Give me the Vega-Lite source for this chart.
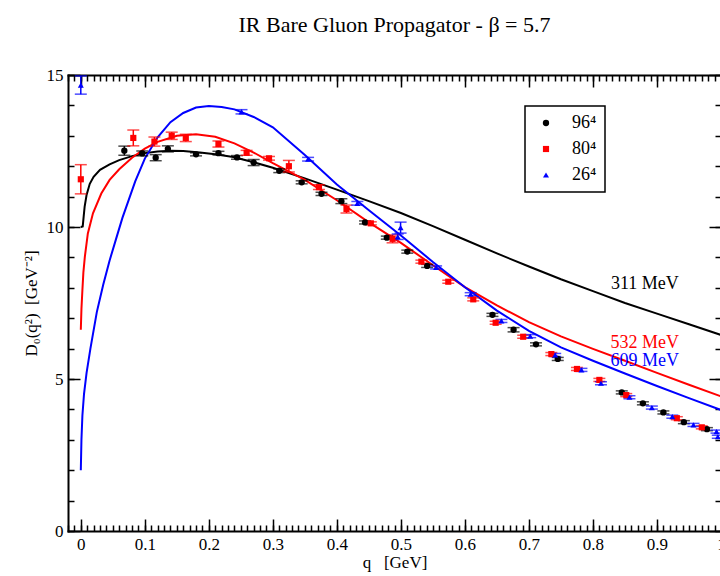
{
  "$schema": "https://vega.github.io/schema/vega-lite/v6.json",
  "width": 653,
  "height": 456,
  "autosize": "none",
  "padding": {"left": 68, "top": 75, "right": 0, "bottom": 45},
  "background": "white",
  "title": {"text": "IR Bare Gluon Propagator - β = 5.7", "font": "Liberation Serif", "fontSize": 22, "fontWeight": "normal", "color": "black", "anchor": "middle", "frame": "group", "baseline": "alphabetic", "offset": 12},
  "config": {
    "view": {"stroke": null},
    "axis": {"grid": false, "domainColor": "black", "tickColor": "black", "labelColor": "black", "titleColor": "black", "labelFont": "Liberation Serif", "titleFont": "Liberation Serif", "labelFontSize": 17, "titleFontSize": 17, "titleFontWeight": "normal", "domainWidth": 2, "tickWidth": 1.5, "domainCap": "square"},
    "legend": {"orient": "none", "legendX": 457, "legendY": 31, "padding": 8, "strokeColor": "black", "fillColor": "white", "strokeWidth": 1.5, "cornerRadius": 0, "labelFont": "Liberation Serif", "labelFontSize": 18, "labelColor": "black", "symbolSize": 40, "rowPadding": 8, "labelOffset": 17, "symbolOffset": 4, "symbolStrokeWidth": 0}
  },
  "datasets": {
    "curves": [
      {"s": "b", "q": 0, "D": 10.0}, {"s": "b", "q": 0.003, "D": 10.02}, {"s": "b", "q": 0.0045, "D": 10.35}, {"s": "b", "q": 0.006, "D": 10.67}, {"s": "b", "q": 0.009, "D": 11.05}, {"s": "b", "q": 0.014, "D": 11.42}, {"s": "b", "q": 0.02, "D": 11.65}, {"s": "b", "q": 0.03, "D": 11.88}, {"s": "b", "q": 0.045, "D": 12.06}, {"s": "b", "q": 0.06, "D": 12.2}, {"s": "b", "q": 0.08, "D": 12.33}, {"s": "b", "q": 0.1, "D": 12.43}, {"s": "b", "q": 0.12, "D": 12.48}, {"s": "b", "q": 0.14, "D": 12.51}, {"s": "b", "q": 0.16, "D": 12.5}, {"s": "b", "q": 0.186, "D": 12.45}, {"s": "b", "q": 0.21, "D": 12.39}, {"s": "b", "q": 0.238, "D": 12.3}, {"s": "b", "q": 0.27, "D": 12.13}, {"s": "b", "q": 0.3, "D": 11.95}, {"s": "b", "q": 0.35, "D": 11.6}, {"s": "b", "q": 0.4, "D": 11.23}, {"s": "b", "q": 0.45, "D": 10.85}, {"s": "b", "q": 0.5, "D": 10.46}, {"s": "b", "q": 0.55, "D": 10.03}, {"s": "b", "q": 0.6, "D": 9.58}, {"s": "b", "q": 0.65, "D": 9.13}, {"s": "b", "q": 0.7, "D": 8.7}, {"s": "b", "q": 0.75, "D": 8.28}, {"s": "b", "q": 0.8, "D": 7.89}, {"s": "b", "q": 0.85, "D": 7.5}, {"s": "b", "q": 0.9, "D": 7.15}, {"s": "b", "q": 0.95, "D": 6.8}, {"s": "b", "q": 1.0, "D": 6.45},
      {"s": "r", "q": 0, "D": 6.62}, {"s": "r", "q": 0.001, "D": 7.3}, {"s": "r", "q": 0.0025, "D": 7.93}, {"s": "r", "q": 0.004, "D": 8.5}, {"s": "r", "q": 0.0063, "D": 9.02}, {"s": "r", "q": 0.011, "D": 9.79}, {"s": "r", "q": 0.019, "D": 10.45}, {"s": "r", "q": 0.032, "D": 11.1}, {"s": "r", "q": 0.045, "D": 11.55}, {"s": "r", "q": 0.06, "D": 11.9}, {"s": "r", "q": 0.08, "D": 12.28}, {"s": "r", "q": 0.1, "D": 12.58}, {"s": "r", "q": 0.12, "D": 12.8}, {"s": "r", "q": 0.15, "D": 13.0}, {"s": "r", "q": 0.18, "D": 13.05}, {"s": "r", "q": 0.21, "D": 12.97}, {"s": "r", "q": 0.24, "D": 12.75}, {"s": "r", "q": 0.27, "D": 12.45}, {"s": "r", "q": 0.3, "D": 12.1}, {"s": "r", "q": 0.35, "D": 11.55}, {"s": "r", "q": 0.4, "D": 10.88}, {"s": "r", "q": 0.45, "D": 10.15}, {"s": "r", "q": 0.5, "D": 9.48}, {"s": "r", "q": 0.55, "D": 8.74}, {"s": "r", "q": 0.6, "D": 8.02}, {"s": "r", "q": 0.65, "D": 7.42}, {"s": "r", "q": 0.7, "D": 6.87}, {"s": "r", "q": 0.75, "D": 6.4}, {"s": "r", "q": 0.8, "D": 5.99}, {"s": "r", "q": 0.85, "D": 5.6}, {"s": "r", "q": 0.9, "D": 5.2}, {"s": "r", "q": 0.95, "D": 4.81}, {"s": "r", "q": 1.0, "D": 4.43},
      {"s": "u", "q": 0, "D": 2.0}, {"s": "u", "q": 0.001, "D": 3.0}, {"s": "u", "q": 0.0025, "D": 3.8}, {"s": "u", "q": 0.005, "D": 4.5}, {"s": "u", "q": 0.009, "D": 5.2}, {"s": "u", "q": 0.015, "D": 6.0}, {"s": "u", "q": 0.025, "D": 7.2}, {"s": "u", "q": 0.035, "D": 8.1}, {"s": "u", "q": 0.045, "D": 8.9}, {"s": "u", "q": 0.055, "D": 9.6}, {"s": "u", "q": 0.065, "D": 10.3}, {"s": "u", "q": 0.075, "D": 10.9}, {"s": "u", "q": 0.085, "D": 11.5}, {"s": "u", "q": 0.1, "D": 12.25}, {"s": "u", "q": 0.12, "D": 12.95}, {"s": "u", "q": 0.14, "D": 13.45}, {"s": "u", "q": 0.16, "D": 13.75}, {"s": "u", "q": 0.18, "D": 13.93}, {"s": "u", "q": 0.2, "D": 13.98}, {"s": "u", "q": 0.22, "D": 13.95}, {"s": "u", "q": 0.24, "D": 13.87}, {"s": "u", "q": 0.27, "D": 13.62}, {"s": "u", "q": 0.3, "D": 13.28}, {"s": "u", "q": 0.35, "D": 12.37}, {"s": "u", "q": 0.4, "D": 11.4}, {"s": "u", "q": 0.45, "D": 10.55}, {"s": "u", "q": 0.5, "D": 9.72}, {"s": "u", "q": 0.55, "D": 8.85}, {"s": "u", "q": 0.6, "D": 8.02}, {"s": "u", "q": 0.65, "D": 7.25}, {"s": "u", "q": 0.7, "D": 6.58}, {"s": "u", "q": 0.75, "D": 6.04}, {"s": "u", "q": 0.8, "D": 5.6}, {"s": "u", "q": 0.85, "D": 5.18}, {"s": "u", "q": 0.9, "D": 4.77}, {"s": "u", "q": 0.95, "D": 4.37}, {"s": "u", "q": 1.0, "D": 3.98}
    ],
    "points": [
      {"s": "96⁴", "q": 0.068, "D": 12.51, "lo": 12.36, "hi": 12.66},
      {"s": "96⁴", "q": 0.096, "D": 12.42, "lo": 12.34, "hi": 12.5},
      {"s": "96⁴", "q": 0.117, "D": 12.28, "lo": 12.18, "hi": 12.38},
      {"s": "96⁴", "q": 0.136, "D": 12.57, "lo": 12.47, "hi": 12.67},
      {"s": "96⁴", "q": 0.18, "D": 12.39, "lo": 12.34, "hi": 12.44},
      {"s": "96⁴", "q": 0.215, "D": 12.43, "lo": 12.37, "hi": 12.49},
      {"s": "96⁴", "q": 0.244, "D": 12.29, "lo": 12.23, "hi": 12.35},
      {"s": "96⁴", "q": 0.27, "D": 12.12, "lo": 12.02, "hi": 12.22},
      {"s": "96⁴", "q": 0.31, "D": 11.85, "lo": 11.79, "hi": 11.91},
      {"s": "96⁴", "q": 0.345, "D": 11.47, "lo": 11.42, "hi": 11.52},
      {"s": "96⁴", "q": 0.376, "D": 11.09, "lo": 11.04, "hi": 11.14},
      {"s": "96⁴", "q": 0.407, "D": 10.85, "lo": 10.77, "hi": 10.93},
      {"s": "96⁴", "q": 0.444, "D": 10.15, "lo": 10.1, "hi": 10.2},
      {"s": "96⁴", "q": 0.478, "D": 9.65, "lo": 9.6, "hi": 9.7},
      {"s": "96⁴", "q": 0.51, "D": 9.19, "lo": 9.14, "hi": 9.24},
      {"s": "96⁴", "q": 0.541, "D": 8.72, "lo": 8.67, "hi": 8.77},
      {"s": "96⁴", "q": 0.643, "D": 7.11, "lo": 7.06, "hi": 7.16},
      {"s": "96⁴", "q": 0.676, "D": 6.62, "lo": 6.55, "hi": 6.69},
      {"s": "96⁴", "q": 0.711, "D": 6.14, "lo": 6.09, "hi": 6.19},
      {"s": "96⁴", "q": 0.745, "D": 5.66, "lo": 5.61, "hi": 5.71},
      {"s": "96⁴", "q": 0.845, "D": 4.56, "lo": 4.51, "hi": 4.61},
      {"s": "96⁴", "q": 0.878, "D": 4.2, "lo": 4.15, "hi": 4.25},
      {"s": "96⁴", "q": 0.91, "D": 3.9, "lo": 3.85, "hi": 3.95},
      {"s": "96⁴", "q": 0.942, "D": 3.58, "lo": 3.53, "hi": 3.63},
      {"s": "96⁴", "q": 0.978, "D": 3.35, "lo": 3.3, "hi": 3.4},
      {"s": "80⁴", "q": 0.0, "D": 11.57, "lo": 11.09, "hi": 12.05},
      {"s": "80⁴", "q": 0.082, "D": 12.93, "lo": 12.67, "hi": 13.19},
      {"s": "80⁴", "q": 0.115, "D": 12.81, "lo": 12.66, "hi": 12.96},
      {"s": "80⁴", "q": 0.142, "D": 13.0, "lo": 12.88, "hi": 13.12},
      {"s": "80⁴", "q": 0.164, "D": 12.93, "lo": 12.81, "hi": 13.05},
      {"s": "80⁴", "q": 0.215, "D": 12.73, "lo": 12.63, "hi": 12.83},
      {"s": "80⁴", "q": 0.259, "D": 12.44, "lo": 12.36, "hi": 12.52},
      {"s": "80⁴", "q": 0.294, "D": 12.26, "lo": 12.2, "hi": 12.32},
      {"s": "80⁴", "q": 0.325, "D": 12.0, "lo": 11.81, "hi": 12.19},
      {"s": "80⁴", "q": 0.372, "D": 11.31, "lo": 11.23, "hi": 11.39},
      {"s": "80⁴", "q": 0.415, "D": 10.59, "lo": 10.46, "hi": 10.72},
      {"s": "80⁴", "q": 0.453, "D": 10.12, "lo": 10.07, "hi": 10.17},
      {"s": "80⁴", "q": 0.487, "D": 9.61, "lo": 9.48, "hi": 9.74},
      {"s": "80⁴", "q": 0.532, "D": 8.86, "lo": 8.81, "hi": 8.91},
      {"s": "80⁴", "q": 0.574, "D": 8.2, "lo": 8.15, "hi": 8.25},
      {"s": "80⁴", "q": 0.613, "D": 7.62, "lo": 7.57, "hi": 7.67},
      {"s": "80⁴", "q": 0.648, "D": 6.85, "lo": 6.8, "hi": 6.9},
      {"s": "80⁴", "q": 0.691, "D": 6.39, "lo": 6.34, "hi": 6.44},
      {"s": "80⁴", "q": 0.735, "D": 5.82, "lo": 5.77, "hi": 5.87},
      {"s": "80⁴", "q": 0.775, "D": 5.33, "lo": 5.28, "hi": 5.38},
      {"s": "80⁴", "q": 0.81, "D": 4.97, "lo": 4.92, "hi": 5.02},
      {"s": "80⁴", "q": 0.852, "D": 4.47, "lo": 4.42, "hi": 4.52},
      {"s": "80⁴", "q": 0.931, "D": 3.71, "lo": 3.66, "hi": 3.76},
      {"s": "80⁴", "q": 0.97, "D": 3.41, "lo": 3.36, "hi": 3.46},
      {"s": "26⁴", "q": 0.0, "D": 14.67, "lo": 14.37, "hi": 14.97},
      {"s": "26⁴", "q": 0.251, "D": 13.79, "lo": 13.72, "hi": 13.86},
      {"s": "26⁴", "q": 0.355, "D": 12.23, "lo": 12.17, "hi": 12.29},
      {"s": "26⁴", "q": 0.432, "D": 10.78, "lo": 10.72, "hi": 10.84},
      {"s": "26⁴", "q": 0.4995, "D": 9.98, "lo": 9.8, "hi": 10.16},
      {"s": "26⁴", "q": 0.495, "D": 9.68, "lo": 9.59, "hi": 9.77},
      {"s": "26⁴", "q": 0.555, "D": 8.67, "lo": 8.62, "hi": 8.72},
      {"s": "26⁴", "q": 0.609, "D": 7.79, "lo": 7.74, "hi": 7.84},
      {"s": "26⁴", "q": 0.657, "D": 6.91, "lo": 6.86, "hi": 6.96},
      {"s": "26⁴", "q": 0.702, "D": 6.41, "lo": 6.36, "hi": 6.46},
      {"s": "26⁴", "q": 0.741, "D": 5.79, "lo": 5.74, "hi": 5.84},
      {"s": "26⁴", "q": 0.782, "D": 5.3, "lo": 5.25, "hi": 5.35},
      {"s": "26⁴", "q": 0.8125, "D": 4.86, "lo": 4.81, "hi": 4.91},
      {"s": "26⁴", "q": 0.857, "D": 4.4, "lo": 4.35, "hi": 4.45},
      {"s": "26⁴", "q": 0.892, "D": 4.06, "lo": 4.01, "hi": 4.11},
      {"s": "26⁴", "q": 0.924, "D": 3.76, "lo": 3.71, "hi": 3.81},
      {"s": "26⁴", "q": 0.957, "D": 3.49, "lo": 3.44, "hi": 3.54},
      {"s": "26⁴", "q": 0.993, "D": 3.27, "lo": 3.22, "hi": 3.32},
      {"s": "26⁴", "q": 0.995, "D": 3.1, "lo": 3.05, "hi": 3.15}
    ],
    "labels": [
      {"t": "311 MeV", "q": 0.828, "D": 7.95, "c": "black"},
      {"t": "532 MeV", "q": 0.8275, "D": 6.01, "c": "red"},
      {"t": "609 MeV", "q": 0.8275, "D": 5.43, "c": "blue"}
    ]
  },
  "layer": [
    {
      "data": {"name": "curves"},
      "transform": [{"filter": "datum.s == 'b'"}],
      "mark": {"type": "line", "color": "black", "strokeWidth": 2},
      "encoding": {
        "x": {"field": "q", "type": "quantitative", "scale": {"domain": [-0.02, 1.0], "nice": false, "zero": false},
              "axis": {"orient": "bottom", "values": [0, 0.1, 0.2, 0.3, 0.4, 0.5, 0.6, 0.7, 0.8, 0.9, 1], "format": "~g", "ticks": false, "labelPadding": 5, "labelFlush": false, "labelOverlap": false, "domain": true, "title": "q\u00a0\u00a0\u00a0[GeV]", "titleY": 36, "titleBaseline": "alphabetic"}},
        "y": {"field": "D", "type": "quantitative", "scale": {"domain": [0, 15], "nice": false, "zero": false},
              "axis": {"orient": "left", "values": [0, 5, 10, 15], "ticks": false, "labelPadding": 5, "labelFlush": false, "labelOverlap": false, "domain": true, "title": "D₀(q²)\u00a0\u00a0[GeV⁻²]", "titleX": -32, "titleBaseline": "alphabetic"}}
      }
    },
    {
      "data": {"name": "curves"},
      "transform": [{"filter": "datum.s == 'r'"}],
      "mark": {"type": "line", "color": "red", "strokeWidth": 2},
      "encoding": {
        "x": {"field": "q", "type": "quantitative", "scale": {"domain": [-0.02, 1.0], "nice": false, "zero": false},
              "axis": {"orient": "bottom", "values": [0, 0.1, 0.2, 0.3, 0.4, 0.5, 0.6, 0.7, 0.8, 0.9, 1], "labels": false, "tickSize": -12, "domain": false, "title": null}},
        "y": {"field": "D", "type": "quantitative", "scale": {"domain": [0, 15], "nice": false, "zero": false},
              "axis": {"orient": "left", "values": [0, 5, 10, 15], "labels": false, "tickSize": -12, "domain": false, "title": null}}
      }
    },
    {
      "data": {"name": "curves"},
      "transform": [{"filter": "datum.s == 'u'"}],
      "mark": {"type": "line", "color": "blue", "strokeWidth": 2},
      "encoding": {
        "x": {"field": "q", "type": "quantitative", "scale": {"domain": [-0.02, 1.0], "nice": false, "zero": false},
              "axis": {"orient": "bottom", "tickCount": 100, "labels": false, "tickSize": -6, "domain": false, "title": null}},
        "y": {"field": "D", "type": "quantitative", "scale": {"domain": [0, 15], "nice": false, "zero": false},
              "axis": {"orient": "left", "tickCount": 15, "labels": false, "tickSize": -6, "domain": false, "title": null}}
      }
    },
    {
      "data": {"name": "points"},
      "mark": {"type": "rule", "strokeWidth": 1.5},
      "encoding": {
        "x": {"field": "q", "type": "quantitative", "scale": {"domain": [-0.02, 1.0], "nice": false, "zero": false},
              "axis": {"orient": "top", "values": [0, 0.1, 0.2, 0.3, 0.4, 0.5, 0.6, 0.7, 0.8, 0.9, 1], "labels": false, "tickSize": -12, "domain": true, "title": null}},
        "y": {"field": "lo", "type": "quantitative", "scale": {"domain": [0, 15], "nice": false, "zero": false},
              "axis": {"orient": "right", "values": [0, 5, 10, 15], "labels": false, "tickSize": -12, "domain": true, "title": null}},
        "y2": {"field": "hi"},
        "color": {"field": "s", "type": "nominal", "scale": {"domain": ["96⁴", "80⁴", "26⁴"], "range": ["black", "red", "blue"]}, "legend": null}
      }
    },
    {
      "data": {"name": "points"},
      "transform": [{"fold": ["lo", "hi"], "as": ["k", "v"]}],
      "mark": {"type": "tick", "orient": "horizontal", "size": 12, "thickness": 1.5},
      "encoding": {
        "x": {"field": "q", "type": "quantitative", "scale": {"domain": [-0.02, 1.0], "nice": false, "zero": false},
              "axis": {"orient": "top", "tickCount": 100, "labels": false, "tickSize": -6, "domain": false, "title": null}},
        "y": {"field": "v", "type": "quantitative", "scale": {"domain": [0, 15], "nice": false, "zero": false},
              "axis": {"orient": "right", "tickCount": 15, "labels": false, "tickSize": -6, "domain": false, "title": null}},
        "color": {"field": "s", "type": "nominal", "scale": {"domain": ["96⁴", "80⁴", "26⁴"], "range": ["black", "red", "blue"]}, "legend": null}
      }
    },
    {
      "data": {"name": "points"},
      "mark": {"type": "point", "filled": true, "opacity": 1},
      "encoding": {
        "x": {"field": "q", "type": "quantitative", "scale": {"domain": [-0.02, 1.0], "nice": false, "zero": false}, "axis": null},
        "y": {"field": "D", "type": "quantitative", "scale": {"domain": [0, 15], "nice": false, "zero": false}, "axis": null},
        "color": {"field": "s", "type": "nominal", "scale": {"domain": ["96⁴", "80⁴", "26⁴"], "range": ["black", "red", "blue"]}, "legend": {"title": null, "labelExpr": "datum.label + '\u00a0'"}},
        "shape": {"field": "s", "type": "nominal", "scale": {"domain": ["96⁴", "80⁴", "26⁴"], "range": ["circle", "square", "triangle-up"]}, "legend": {"title": null, "labelExpr": "datum.label + '\u00a0'"}},
        "size": {"field": "s", "type": "nominal", "scale": {"domain": ["96⁴", "80⁴", "26⁴"], "range": [40, 36, 52]}, "legend": null}
      }
    },
    {
      "data": {"name": "labels"},
      "mark": {"type": "text", "font": "Liberation Serif", "fontSize": 18, "align": "left", "baseline": "alphabetic"},
      "encoding": {
        "x": {"field": "q", "type": "quantitative", "scale": {"domain": [-0.02, 1.0], "nice": false, "zero": false}, "axis": null},
        "y": {"field": "D", "type": "quantitative", "scale": {"domain": [0, 15], "nice": false, "zero": false}, "axis": null},
        "text": {"field": "t"},
        "color": {"field": "c", "type": "nominal", "scale": null}
      }
    }
  ],
  "resolve": {
    "axis": {"x": "independent", "y": "independent"},
    "scale": {"color": "independent", "shape": "independent", "size": "independent"},
    "legend": {"color": "independent", "shape": "independent", "size": "independent"}
  }
}
